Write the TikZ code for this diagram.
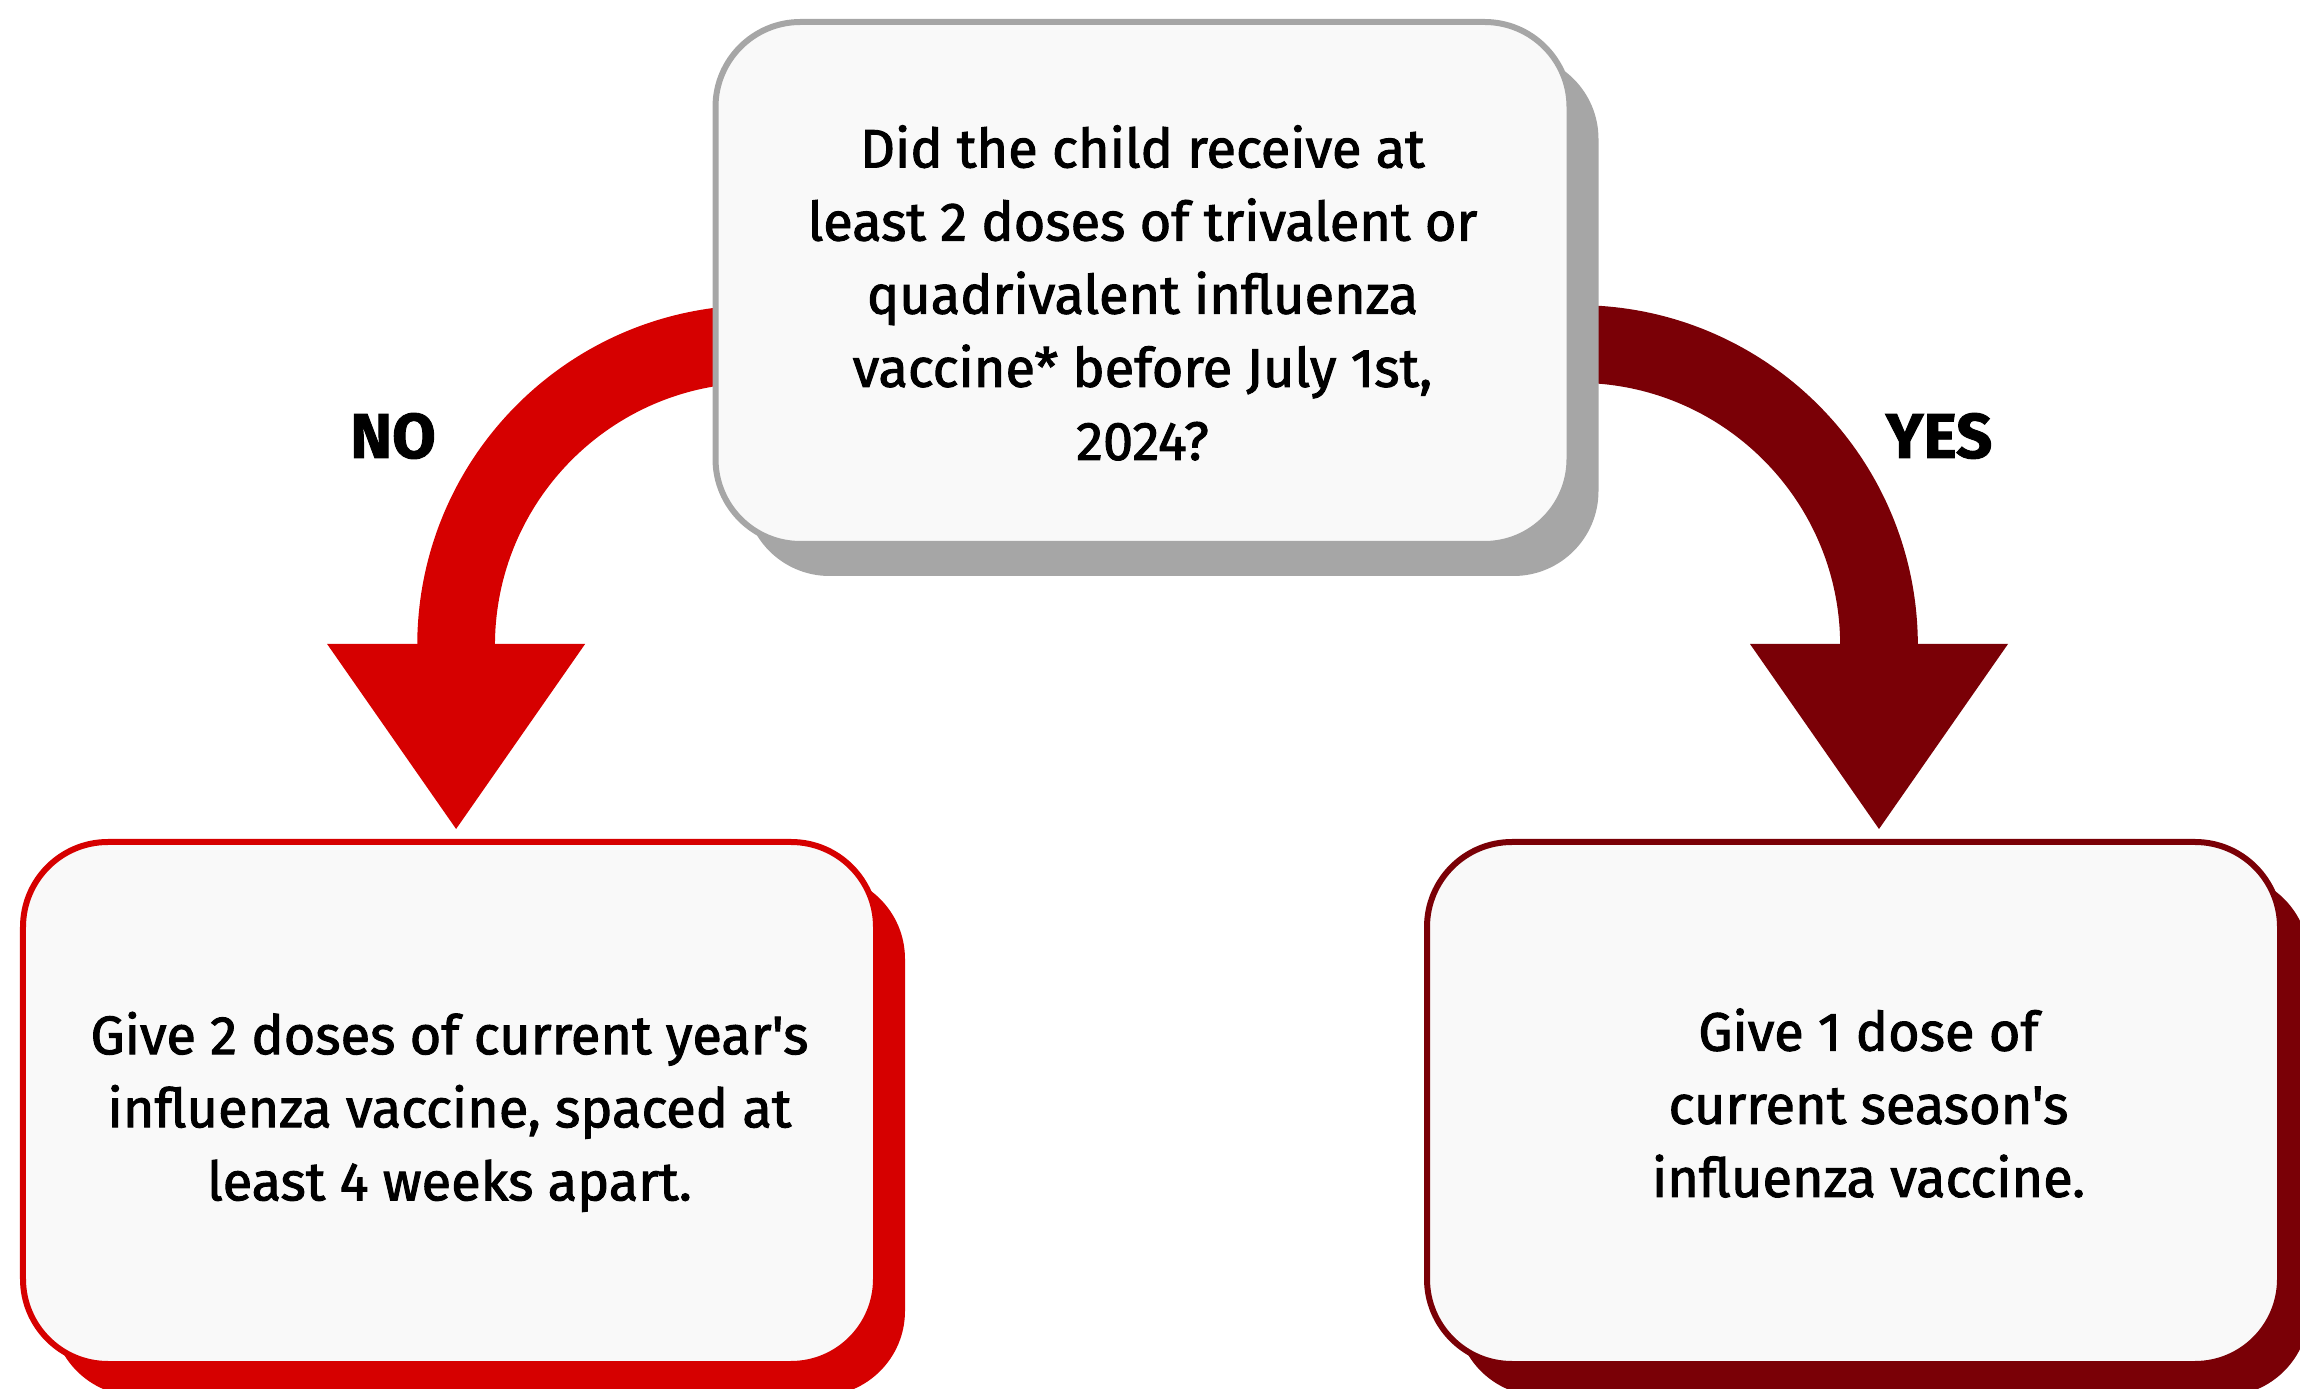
\documentclass[tikz,border=0pt]{standalone}
\usepackage{fontspec}
\setmainfont{Fira Sans}[BoldFeatures={FakeBold=1.5}]
\newfontfamily\medfont{Fira Sans}[FakeBold=1.8]
\usetikzlibrary{positioning, shadows, arrows.meta, backgrounds}

\definecolor{nored}{HTML}{D60000}
\definecolor{yesred}{HTML}{7A0006}
\definecolor{qgray}{HTML}{A6A6A6}
\definecolor{boxfill}{HTML}{F9F9F9}

\tikzset{
	decision/.style={draw=#1, fill=boxfill, line width=0.06cm, rounded corners=0.85cm, align=center,
		font=\medfont\fontsize{15.4}{20.8}\selectfont,
		drop shadow={shadow xshift=0.29cm, shadow yshift=-0.32cm, fill=#1, opacity=1}},
	qbox/.style={decision=qgray, minimum width=8.54cm, minimum height=5.22cm},
	abox/.style={decision=#1, minimum width=8.53cm, minimum height=5.22cm},
	flow/.style={draw=#1, line width=0.777cm, shorten >=0.1cm,
		-{Triangle[width=2.58cm, length=1.85cm, line width=0pt]}},
	answer/.style={font=\bfseries\fontsize{18}{20}\selectfont}
}

\begin{document}
\begin{tikzpicture}
	\useasboundingbox (0,0) rectangle (23,13.88);

	\node[qbox] (q) at (11.425,11.05) {\rule{0pt}{0.62cm}Did the child receive at\\least 2 doses of trivalent or\\quadrivalent influenza\\vaccine* before July 1st,\\2024?};

	\node[abox=nored] (no) at (4.495,2.85) {\rule{0pt}{0.6cm}Give 2 doses of current year's\\influenza vaccine, spaced at\\least 4 weeks apart.};
	\node[abox=yesred] (yes) at (18.535,2.85) {\hspace*{0.3cm}Give 1 dose of\\\hspace*{0.3cm}current season's\\\hspace*{0.3cm}influenza vaccine.};

	\node[answer] (nolabel) at (3.93,9.52) {NO};
	\node[answer] (yeslabel) at (19.39,9.52) {YES};

	% curved arrows behind the boxes
	\begin{scope}[on background layer]
		\coordinate (nostart) at (7.576,10.44);
		\coordinate (yesstart) at (15.775,10.44);
		\draw[flow=nored] (nostart) arc[start angle=90, end angle=180, radius=3.015] coordinate (noturn) -- (noturn |- no.north);
		\draw[flow=yesred] (yesstart) arc[start angle=90, end angle=0, radius=3.015] coordinate (yesturn) -- (yesturn |- yes.north);
	\end{scope}

\end{tikzpicture}
\end{document}
